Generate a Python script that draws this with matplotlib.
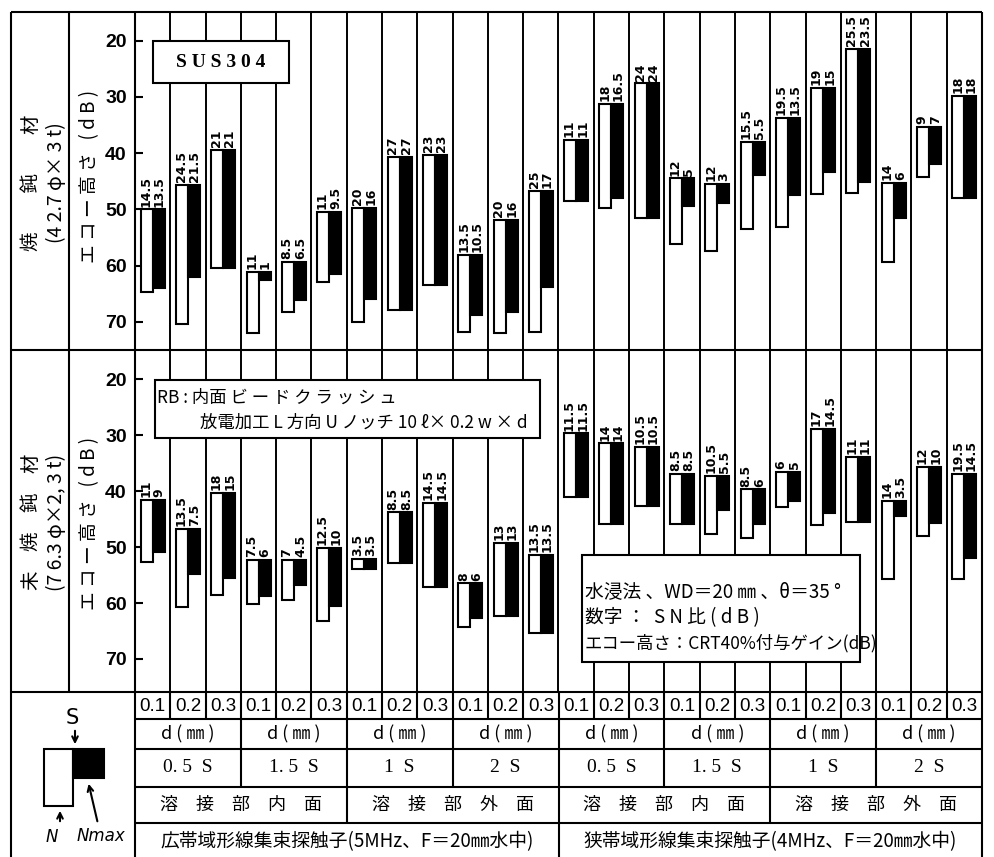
import matplotlib
matplotlib.use('Agg')
import matplotlib.pyplot as plt
from matplotlib.patches import Rectangle
import numpy as np

# ---------------- data ----------------
d_labels = ['0.1', '0.2', '0.3']
spacing_labels = ['0. 5  S', '1. 5  S', '1  S', '2  S']
surface_labels = ['溶　接　部　内　面', '溶　接　部　外　面']
probe_labels = ['広帯域形線集束探触子(5MHz、F＝20㎜水中)',
                '狭帯域形線集束探触子(4MHz、F＝20㎜水中)']
y_ticks = [20, 30, 40, 50, 60, 70]

# Top panel (annealed): S echo level, N level, Nmax level (echo height dB)
top_s = [50.0, 45.7, 39.4, 61.1, 59.3, 50.4, 49.8, 40.6, 40.3, 58.1, 51.8, 46.7,
         37.7, 31.3, 27.6, 44.5, 45.4, 38.0, 33.8, 28.4, 21.5, 45.3, 35.3, 29.8]
top_n = [64.7, 70.3, 60.4, 72.0, 68.2, 62.9, 70.0, 67.9, 63.5, 71.8, 72.0, 71.8,
         48.5, 49.8, 51.6, 56.2, 57.4, 53.5, 53.1, 47.3, 47.0, 59.4, 44.2, 47.9]
top_nmax = [63.9, 62.1, 60.4, 62.5, 66.1, 61.4, 66.0, 67.9, 63.5, 68.7, 68.2, 63.8,
            48.5, 48.0, 51.6, 49.4, 48.9, 43.8, 47.5, 43.3, 45.1, 51.5, 41.9, 47.9]
top_sn_n = ['14.5', '24.5', '21', '11', '8.5', '11', '20', '27', '23', '13.5', '20', '25',
            '11', '18', '24', '12', '12', '15.5', '19.5', '19', '25.5', '14', '9', '18']
top_sn_nmax = ['13.5', '21.5', '21', '1', '6.5', '9.5', '16', '27', '23', '10.5', '16', '17',
               '11', '16.5', '24', '5', '3', '5.5', '13.5', '15', '23.5', '6', '7', '18']

# Bottom panel (non-annealed)
bot_s = [41.6, 46.7, 40.3, 52.3, 52.3, 50.1, 52.1, 43.8, 42.1, 56.5, 49.2, 51.4,
         29.7, 31.5, 32.1, 37.0, 37.3, 39.7, 36.6, 28.9, 33.9, 41.8, 35.7, 37.0]
bot_n = [52.6, 60.7, 58.6, 60.1, 59.5, 63.2, 54.0, 52.8, 57.1, 64.3, 62.4, 65.3,
         41.0, 45.8, 42.7, 45.8, 47.6, 48.3, 42.8, 46.1, 45.5, 55.8, 48.0, 55.8]
bot_nmax = [50.8, 54.9, 55.6, 58.8, 56.8, 60.5, 54.0, 52.8, 57.1, 62.6, 62.4, 65.3,
            41.0, 45.8, 42.7, 45.8, 43.4, 45.9, 41.7, 44.0, 45.5, 44.5, 45.7, 52.0]
bot_sn_n = ['11', '13.5', '18', '7.5', '7', '12.5', '3.5', '8.5', '14.5', '8', '13', '13.5',
            '11.5', '14', '10.5', '8.5', '10.5', '8.5', '6', '17', '11', '14', '12', '19.5']
bot_sn_nmax = ['9', '7.5', '15', '6', '4.5', '10', '3.5', '8.5', '14.5', '6', '13', '13.5',
               '11.5', '14', '10.5', '8.5', '5.5', '6', '5', '14.5', '11', '3.5', '10', '14.5']

# ---------------- layout ----------------
W, H = 995, 857
JP = ['Noto Sans CJK JP', 'DejaVu Sans']
LW = 1.5

fig = plt.figure(figsize=(W / 100, H / 100), dpi=100)
fig.patch.set_facecolor('white')

def fx(x):
    return x / W

def fy(y):
    return 1 - y / H

XL, XS, X0, X1 = 11, 69, 135, 982
Y_TOP, Y_MID, Y_TAB = 12, 350, 692
NCOL = 24

panels = [
    (Y_TOP, Y_MID, (75.0, 14.9), top_s, top_n, top_nmax, top_sn_n, top_sn_nmax),
    (Y_MID, Y_TAB, (75.9, 14.8), bot_s, bot_n, bot_nmax, bot_sn_n, bot_sn_nmax),
]

for (yt, yb, ylim, s, n, nmax, ln, lm) in panels:
    ax = fig.add_axes([fx(X0), fy(yb), fx(X1) - fx(X0), fy(yt) - fy(yb)])
    ax.set_xlim(0, NCOL)
    ax.set_ylim(*ylim)
    for sp in ax.spines.values():
        sp.set_visible(False)
    ax.set_xticks([])
    ax.set_yticks(y_ticks)
    ax.tick_params(axis='y', direction='in', length=6, width=1.5, pad=6,
                   labelsize=14)
    for lab in ax.get_yticklabels():
        lab.set_fontfamily('Liberation Sans')
        lab.set_fontweight('bold')
    x = np.arange(NCOL)
    s = np.array(s); n = np.array(n); nmax = np.array(nmax)
    ax.bar(x + 0.33, n - s, bottom=s, width=0.34, facecolor='white',
           edgecolor='black', linewidth=LW, zorder=3)
    ax.bar(x + 0.67, nmax - s, bottom=s, width=0.34, facecolor='black',
           edgecolor='black', linewidth=LW, zorder=3)
    for i in range(NCOL):
        ax.text(x[i] + 0.31, s[i] - 0.5, ln[i], rotation=90, ha='center',
                va='bottom', fontsize=9, fontweight='bold', zorder=4)
        ax.text(x[i] + 0.69, s[i] - 0.5, lm[i], rotation=90, ha='center',
                va='bottom', fontsize=9, fontweight='bold', zorder=4)
    for i in range(NCOL + 1):
        ax.axvline(i, color='black', lw=1.4, zorder=1)

# ---------------- overlay (frame, table, notes) ----------------
ov = fig.add_axes([0, 0, 1, 1])
ov.set_xlim(0, W)
ov.set_ylim(H, 0)
ov.axis('off')
ov.set_zorder(5)
ov.patch.set_visible(False)

def hline(y, x0, x1):
    ov.plot([x0, x1], [y, y], color='black', lw=LW, solid_capstyle='butt')

def vline(x, y0, y1):
    ov.plot([x, x], [y0, y1], color='black', lw=LW, solid_capstyle='butt')

def colx(i):
    return X0 + i * (X1 - X0) / NCOL

hline(Y_TOP, XL, X1)
hline(Y_MID, XL, X1)
hline(Y_TAB, XL, X1)
vline(XL, Y_TOP, H)
vline(XS, Y_TOP, Y_TAB)
vline(X0, Y_TOP, H)
vline(X1, Y_TOP, H)

R1, R2, R3, R4 = 719, 749, 787, 823
for y in (R1, R2, R3, R4):
    hline(y, X0, X1)
for i in range(1, NCOL):
    vline(colx(i), Y_TAB, R1)
for i in range(3, NCOL, 3):
    vline(colx(i), R1, R3)
for i in range(6, NCOL, 6):
    vline(colx(i), R3, R4)
vline(colx(12), R4, H)

for i in range(NCOL):
    ov.text((colx(i) + colx(i + 1)) / 2, (Y_TAB + R1) / 2 + 1, d_labels[i % 3],
            ha='center', va='center', fontsize=13.5, family='Liberation Sans')
for g in range(8):
    cx = (colx(3 * g) + colx(3 * g + 3)) / 2
    ov.text(cx, (R1 + R2) / 2, 'd ( ㎜ )', ha='center', va='center',
            fontsize=13, family=JP)
    ov.text(cx, (R2 + R3) / 2, spacing_labels[g % 4], ha='center', va='center',
            fontsize=14, family='Liberation Serif')
for g in range(4):
    cx = (colx(6 * g) + colx(6 * g + 6)) / 2
    ov.text(cx, (R3 + R4) / 2, surface_labels[g % 2], ha='center', va='center',
            fontsize=13, family=JP)
for g in range(2):
    cx = (colx(12 * g) + colx(12 * g + 12)) / 2
    ov.text(cx, (R4 + H) / 2 + 2, probe_labels[g], ha='center', va='center',
            fontsize=13.5, family=JP)

# row labels and axis labels
ov.text(44, 183, '焼　　鈍　　材\n(4 2.7 φ× 3 t)', rotation=90, ha='center',
        va='center', fontsize=14, family=JP, multialignment='center',
        linespacing=1.25)
ov.text(44, 522, '未　焼　鈍　材\n(7 6.3 φ×2, 3 t)', rotation=90, ha='center',
        va='center', fontsize=14, family=JP, multialignment='center',
        linespacing=1.25)
for yc in (176, 523):
    ov.text(90, yc, 'エ コ ー 高 さ   ( d B )', rotation=90, ha='center',
            va='center', fontsize=13.5, family=JP)

# SUS304 box
ov.add_patch(Rectangle((153, 41), 136, 42, facecolor='white', edgecolor='black',
                       lw=LW, zorder=3))
ov.text(221, 62, 'S U S 3 0 4', ha='center', va='center', fontsize=14,
        family='Liberation Serif', fontweight='bold', zorder=4)

# RB box
ov.add_patch(Rectangle((155, 380), 385, 58, facecolor='white', edgecolor='black',
                       lw=LW, zorder=3))
ov.text(157, 398, 'RB : 内面 ビ ー ド ク ラ ッ シ ュ', ha='left', va='center',
        fontsize=12.5, family=JP, zorder=4)
ov.text(200, 423, '放電加工 L 方向 U ノッチ 10 ℓ× 0.2 w × d', ha='left',
        va='center', fontsize=12.5, family=JP, zorder=4)

# notes box
ov.add_patch(Rectangle((582, 555), 278, 107, facecolor='white', edgecolor='black',
                       lw=LW, zorder=3))
ov.text(585, 592, '水浸法 、WD＝20 ㎜ 、θ＝35 °', ha='left', va='center',
        fontsize=13.5, family=JP, zorder=4)
ov.text(585, 618, '数字 ：  S N 比 ( d B )', ha='left', va='center',
        fontsize=13.5, family=JP, zorder=4)
ov.text(585, 643, 'エコー高さ：CRT40%付与ゲイン(dB)', ha='left', va='center',
        fontsize=12.5, family=JP, zorder=4)

# legend diagram
ov.add_patch(Rectangle((44, 749), 29, 57, facecolor='white', edgecolor='black',
                       lw=LW, zorder=3))
ov.add_patch(Rectangle((73, 749), 31, 29, facecolor='black', edgecolor='black',
                       lw=LW, zorder=3))
ov.text(72, 718, 'S', ha='center', va='center', fontsize=15, family='DejaVu Sans')
ov.annotate('', xy=(75, 747), xytext=(75, 728),
            arrowprops=dict(arrowstyle='->', lw=1.5, color='black'))
ov.annotate('', xy=(60, 808), xytext=(60, 824),
            arrowprops=dict(arrowstyle='->', lw=1.5, color='black'))
ov.annotate('', xy=(88, 781), xytext=(98, 824),
            arrowprops=dict(arrowstyle='->', lw=1.5, color='black'))
ov.text(52, 837, 'N', ha='center', va='center', fontsize=12, style='italic')
ov.text(101, 836, 'Nmax', ha='center', va='center', fontsize=12, style='italic')

fig.savefig('out.png', dpi=100, facecolor='white')
